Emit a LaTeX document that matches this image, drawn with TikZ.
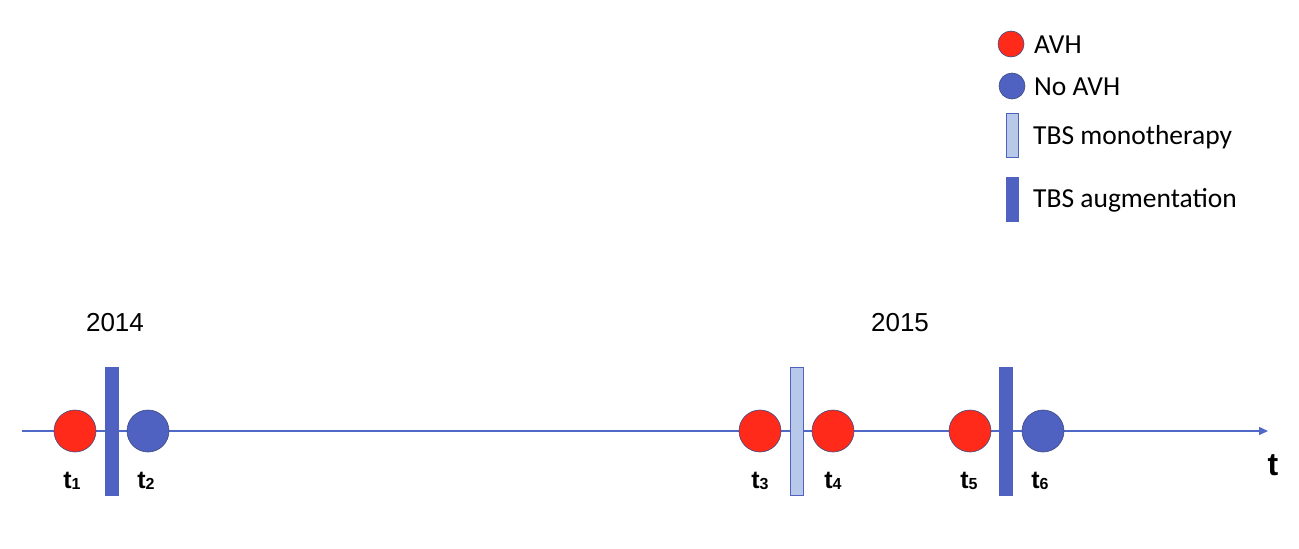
\documentclass[tikz,border=0pt]{standalone}
\usepackage{fontspec}
\setmainfont{Liberation Sans}
\newfontfamily\legfont{Carlito}
\usetikzlibrary{arrows.meta}
\definecolor{avhred}{HTML}{FF2A1A}
\definecolor{darkbl}{HTML}{4F62C2}
\definecolor{lightbl}{HTML}{B7C8E8}
\definecolor{edgec}{HTML}{3E4A80}
\definecolor{axisc}{HTML}{5068C8}
\newcommand{\mysub}[1]{\raisebox{-0.5pt}{\fontsize{16}{18}\selectfont #1}}
\tikzset{
  redpt/.style={circle,fill=avhred,draw=edgec,line width=0.6pt,minimum size=42pt,inner sep=0pt},
  bluept/.style={circle,fill=darkbl,draw=edgec,line width=0.6pt,minimum size=42pt,inner sep=0pt},
  augbar/.style={rectangle,fill=darkbl,draw=darkbl,line width=0.6pt,minimum width=13pt,minimum height=128pt,inner sep=0pt},
  monobar/.style={rectangle,fill=lightbl,draw=darkbl,line width=0.6pt,minimum width=13pt,minimum height=128pt,inner sep=0pt},
  tlab/.style={font=\fontsize{25}{27}\selectfont\bfseries,inner sep=0pt},
  yearlab/.style={font=\fontsize{26}{28}\selectfont,inner sep=0pt},
  legred/.style={circle,fill=avhred,draw=edgec,line width=0.6pt,minimum size=26pt,inner sep=0pt},
  legblue/.style={circle,fill=darkbl,draw=edgec,line width=0.6pt,minimum size=26pt,inner sep=0pt},
  legmono/.style={rectangle,fill=lightbl,draw=darkbl,line width=0.6pt,minimum width=12pt,minimum height=44pt,inner sep=0pt},
  legaug/.style={rectangle,fill=darkbl,draw=darkbl,line width=0.6pt,minimum width=12pt,minimum height=44pt,inner sep=0pt},
  legtxt/.style={font=\legfont\fontsize{27.5}{29}\selectfont,anchor=west,inner sep=0pt},
}
\begin{document}
\begin{tikzpicture}[x=1pt,y=-1pt]
\useasboundingbox[fill=white] (0,0) rectangle (1299,549);
% axis
\coordinate (a0) at (22,431);
\coordinate (a1) at (1268,431);
\draw[axisc,line width=1.4pt,-{Triangle[length=9pt,width=8pt]}] (a0) -- (a1);
% events
\node[redpt] (t1) at (75,431) {};
\node[augbar] (b1) at (112,431) {};
\node[bluept] (t2) at (148,431) {};
\node[redpt] (t3) at (760,431) {};
\node[monobar] (b2) at (796.5,431) {};
\node[redpt] (t4) at (833,431) {};
\node[redpt] (t5) at (970,431) {};
\node[augbar] (b3) at (1006,431) {};
\node[bluept] (t6) at (1043,431) {};
% labels
\node[tlab] (l1) at (72,481) {t\mysub{1}};
\node[tlab] (l2) at (146,481) {t\mysub{2}};
\node[tlab] (l3) at (760,481) {t\mysub{3}};
\node[tlab] (l4) at (833,481) {t\mysub{4}};
\node[tlab] (l5) at (969,481) {t\mysub{5}};
\node[tlab] (l6) at (1040,481) {t\mysub{6}};
\node[font=\fontsize{32}{34}\selectfont\bfseries,inner sep=0pt] (tt) at (1273,465) {t};
\node[yearlab] (y1) at (115,323) {2014};
\node[yearlab] (y2) at (900,323) {2015};
% legend
\node[legred] (g1) at (1011,44) {};
\node[legtxt] (g1t) at (1034,45) {AVH};
\node[legblue] (g2) at (1012,86) {};
\node[legtxt] (g2t) at (1034,87) {No AVH};
\node[legmono] (g3) at (1012,135) {};
\node[legtxt] (g3t) at (1033,137) {TBS monotherapy};
\node[legaug] (g4) at (1012,199) {};
\node[legtxt] (g4t) at (1033,200) {TBS augmentation};
\end{tikzpicture}
\end{document}
